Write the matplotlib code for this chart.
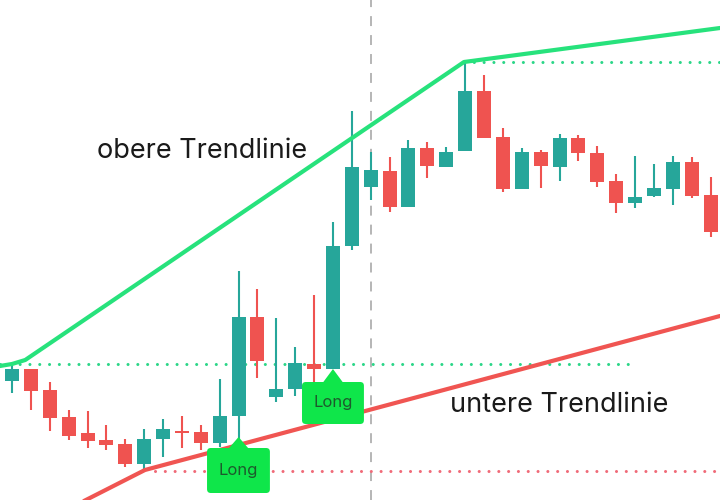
import matplotlib
matplotlib.use("Agg")
import matplotlib.pyplot as plt
from matplotlib.patches import FancyBboxPatch, Polygon
import numpy as np

plt.rcParams["font.family"] = ["Inter", "DejaVu Sans"]

# candle data (index -1 is the partly cut-off one at the left edge)
idx = list(range(-1, 38))
opens = [102, 119, 131, 110, 83, 67, 60, 56, 36, 61, 69, 68, 57, 84, 183, 103, 111, 136, 131,
         254, 313, 329, 293, 352, 333, 349, 409, 363, 311, 348, 333, 362, 347, 319, 297, 304,
         311, 338, 305]
closes = [120, 131, 109, 82, 64, 59, 55, 36, 61, 71, 67, 57, 84, 183, 139, 111, 137, 131, 254,
          333, 330, 293, 352, 334, 348, 409, 362, 311, 348, 334, 362, 347, 318, 297, 303, 312,
          338, 304, 268]
highs = [128, 138, 131, 118, 90, 89, 75, 61, 71, 81, 84, 75, 121, 229, 211, 182, 153, 205, 278,
         389, 348, 343, 360, 358, 353, 438, 425, 372, 352, 350, 366, 365, 354, 326, 344, 336,
         344, 343, 323]
lows = [95, 107, 90, 69, 60, 52, 50, 33, 31, 43, 52, 50, 53, 57, 122, 98, 104, 118, 131, 250,
        300, 288, 293, 322, 333, 349, 362, 308, 311, 312, 319, 339, 313, 287, 292, 303, 295,
        302, 263]

# trend lines (x in candle index, y in price)
upper_x = [-0.64, 0.0, 0.7, 23.94, 37.5]
upper_y = [134, 136, 140, 438, 472]
lower_x = [3.6, 7.04, 37.5]
lower_y = [-3, 30, 184]

# horizontal levels
level_top = 438
level_mid = 136
level_low = 29
split_x = 19.0

# "Long" signals: (tip x, tip price, box left, box right, box bottom, box top)
signals = [(12.0, 63, 10.33, 13.66, 7, 52), (17.0, 131, 15.36, 18.64, 76, 118)]

up_col = "#26a69a"
dn_col = "#ef5350"
green = "#27e27c"
sig_green = "#0fe64a"

fig = plt.figure(figsize=(7.2, 5), dpi=100)
ax = fig.add_axes([0, 0, 1, 1])
ax.set_xlim(-0.636, 37.5)
ax.set_ylim(0, 500)
ax.axis("off")

# candles
w = 0.74
for i, o, c, h, l in zip(idx, opens, closes, highs, lows):
    col = up_col if c >= o else dn_col
    ax.plot([i, i], [l, h], color=col, lw=1.5, solid_capstyle="butt", zorder=3)
    ax.add_patch(plt.Rectangle((i - w / 2, min(o, c)), w, max(abs(c - o), 1.5),
                               facecolor=col, edgecolor="none", zorder=3))

# dotted levels
dot = dict(lw=2.2, linestyle=(0, (0.01, 3.2)), dash_capstyle="round", zorder=2)
ax.plot([-0.636, 32.85], [level_mid, level_mid], color="#2bd688", **dot)
ax.plot([23.94, 37.5], [level_top, level_top], color="#2bd688", **dot)
ax.plot([7.6, 37.5], [level_low, level_low], color="#f06a78", **dot)

# vertical separator
ax.axvline(split_x, color="#b0b0b0", lw=1.3, linestyle=(0, (5.5, 5)), zorder=1)

# trend lines
ax.plot(upper_x, upper_y, color=green, lw=3, solid_capstyle="round", solid_joinstyle="round", zorder=4)
ax.plot(lower_x, lower_y, color="#f05552", lw=3, solid_capstyle="round", zorder=4)

# signal markers
for tx, ty, x0, x1, y0, y1 in signals:
    ax.add_patch(Polygon([[tx - 0.55, y1 - 1], [tx, ty], [tx + 0.55, y1 - 1]],
                         closed=True, facecolor=sig_green, edgecolor="none", zorder=5))
    ax.add_patch(FancyBboxPatch((x0, y0), x1 - x0, y1 - y0,
                                boxstyle="round,pad=0,rounding_size=0.2",
                                mutation_aspect=18.88,
                                facecolor=sig_green, edgecolor="none", zorder=5))
    ax.text((x0 + x1) / 2, (y0 + y1) / 2, "Long", ha="center", va="center",
            fontsize=12, color="#1d5a2c", zorder=6)

# labels
ax.text(4.5, 342, "obere Trendlinie", fontsize=19.5, color="#1a1a1a", va="baseline", zorder=6)
ax.text(23.2, 88, "untere Trendlinie", fontsize=19.5, color="#1a1a1a", va="baseline", zorder=6)

fig.savefig("out.png", dpi=100, facecolor="white")
